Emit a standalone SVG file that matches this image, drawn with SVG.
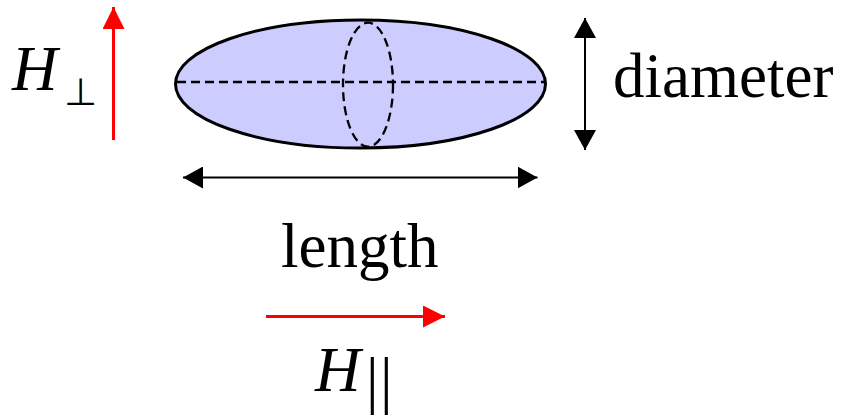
<svg xmlns="http://www.w3.org/2000/svg" width="847" height="416" viewBox="0 0 847 416">
<style>
.lbl{font-family:"Liberation Serif","Times New Roman",serif;font-size:63px;fill:#000}
.it{font-style:italic}
.sub{font-family:"DejaVu Sans",sans-serif;fill:#000}
.dash{fill:none;stroke:#000;stroke-width:2.3;stroke-dasharray:9,5}
</style>
<defs>
<marker id="ab" viewBox="0 0 20 22" refX="20" refY="11" markerWidth="20" markerHeight="22" markerUnits="userSpaceOnUse" orient="auto-start-reverse">
<path d="M0,0 L20,11 L0,22 Z" fill="#000"/>
</marker>
<marker id="ar" viewBox="0 0 22 22" refX="22" refY="11" markerWidth="22" markerHeight="22" markerUnits="userSpaceOnUse" orient="auto">
<path d="M0,0 L22,11 L0,22 Z" fill="#f00"/>
</marker>
</defs>
<g id="ellipsoid">
<ellipse cx="360.5" cy="84" rx="185" ry="64" fill="#ccccff" stroke="#000" stroke-width="3"/>
<line class="dash" x1="177" y1="82" x2="545" y2="82"/>
<ellipse class="dash" cx="368" cy="84.7" rx="25" ry="62"/>
</g>
<g id="connectors">
<line x1="183" y1="177.5" x2="537.5" y2="177.5" stroke="#000" stroke-width="2" marker-start="url(#ab)" marker-end="url(#ab)"/>
<line x1="585" y1="18" x2="585" y2="150" stroke="#000" stroke-width="2" marker-start="url(#ab)" marker-end="url(#ab)"/>
<line x1="113.5" y1="140" x2="113.5" y2="7" stroke="#f00" stroke-width="3" marker-end="url(#ar)"/>
<line x1="266" y1="316.5" x2="445" y2="316.5" stroke="#f00" stroke-width="3" marker-end="url(#ar)"/>
</g>
<g id="diameter-label"><text class="lbl" x="613" y="97">diameter</text></g>
<g id="length-label"><text class="lbl" x="281" y="267">length</text></g>
<g id="h-perp">
<text class="lbl it" x="12" y="90">H</text>
<text class="sub" x="64" y="105" font-size="38">⊥</text>
</g>
<g id="h-par">
<text class="lbl it" x="315" y="391">H</text>
<text class="lbl" x="366" y="401" font-size="32" letter-spacing="1.5">||</text>
</g>
</svg>
